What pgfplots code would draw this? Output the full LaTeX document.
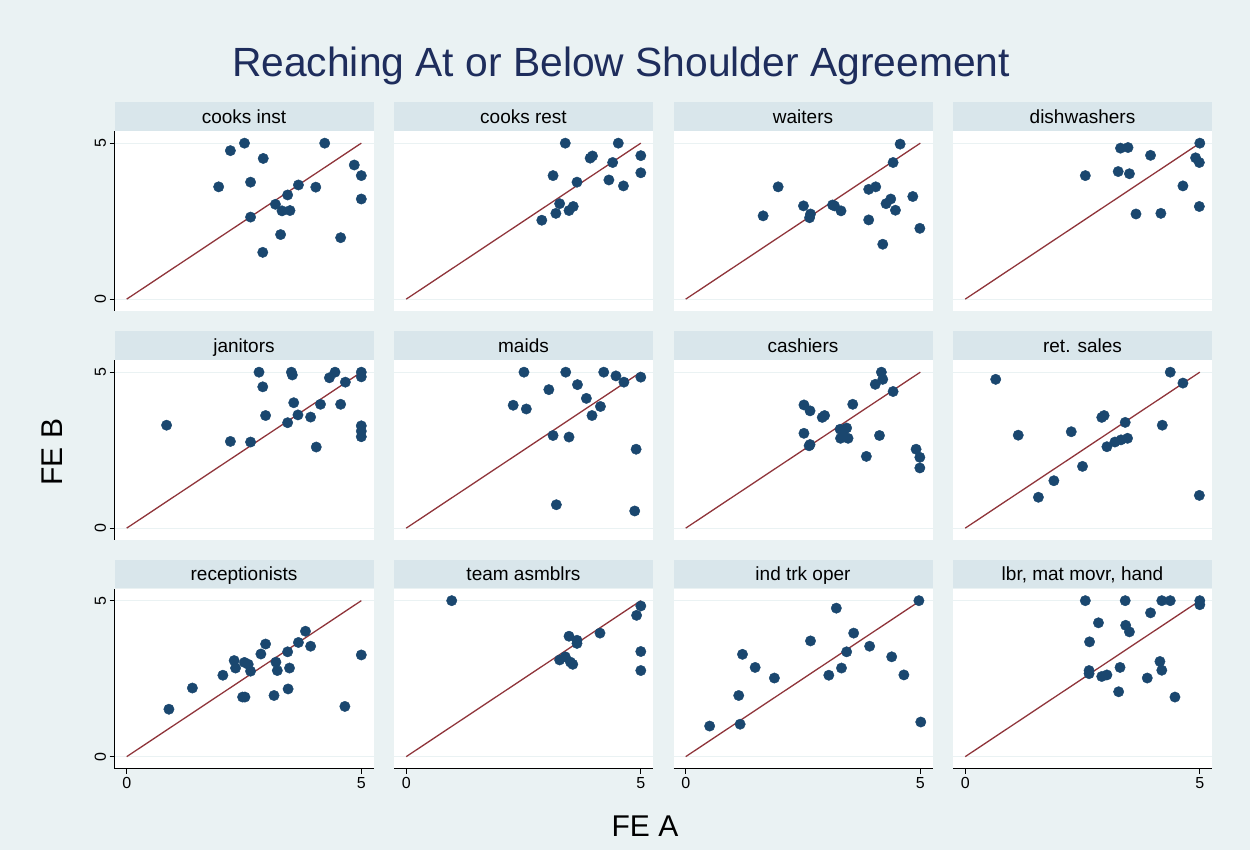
\documentclass[border=0pt]{standalone}
\usepackage{fontspec}
\setmainfont{Liberation Sans}
\usepackage{pgfplots}
\usepackage{pgfplotstable}
\pgfplotsset{compat=1.18}
\definecolor{bgc}{HTML}{EAF2F3}
\definecolor{hdr}{HTML}{D9E6EB}
\definecolor{dot}{HTML}{1A476F}
\definecolor{fitc}{HTML}{90353B}
\definecolor{ttl}{HTML}{1E2D5C}

\pgfplotstableread{
x y
2.21 4.76
2.51 5.00
2.91 4.51
1.96 3.60
2.64 3.75
4.22 5.00
4.85 4.30
5.00 3.96
5.00 3.21
3.66 3.66
4.03 3.59
3.43 3.34
3.17 3.04
3.31 2.83
3.48 2.84
2.64 2.63
3.28 2.07
2.90 1.50
4.56 1.97
}\tA
\pgfplotstableread{
x y
3.39 5.00
4.52 5.00
3.92 4.52
3.97 4.59
5.00 4.60
4.40 4.38
5.00 4.05
3.13 3.96
3.64 3.75
4.32 3.82
4.63 3.63
3.27 3.06
3.56 2.97
3.47 2.84
3.19 2.75
2.89 2.53
}\tB
\pgfplotstableread{
x y
4.57 4.97
4.42 4.38
1.97 3.60
3.90 3.52
4.05 3.60
4.84 3.29
4.37 3.21
4.27 3.06
4.47 2.85
2.51 2.99
2.66 2.73
2.64 2.61
3.13 3.02
3.17 2.99
3.31 2.83
1.65 2.67
3.90 2.54
4.99 2.27
4.20 1.76
}\tC
\pgfplotstableread{
x y
5.00 5.00
3.31 4.84
3.47 4.86
3.95 4.61
4.91 4.53
4.99 4.38
3.26 4.09
3.50 4.02
2.56 3.96
4.64 3.63
4.99 2.97
3.64 2.73
4.17 2.75
}\tD
\pgfplotstableread{
x y
2.82 5.00
3.51 5.00
3.53 4.91
4.32 4.82
4.44 5.00
5.00 5.00
5.00 4.85
4.66 4.68
2.90 4.53
3.56 4.02
4.13 3.97
4.56 3.97
2.96 3.61
3.65 3.63
3.92 3.56
3.43 3.38
0.85 3.30
5.00 3.28
5.00 3.11
5.00 2.93
2.21 2.78
2.64 2.76
4.04 2.60
}\tE
\pgfplotstableread{
x y
2.51 5.00
3.40 5.00
4.21 5.00
4.47 4.88
4.64 4.68
5.00 4.84
3.65 4.60
3.04 4.44
3.84 4.16
2.28 3.94
2.56 3.82
4.14 3.90
3.96 3.61
3.13 2.97
3.47 2.92
4.90 2.53
3.20 0.75
4.87 0.55
}\tF
\pgfplotstableread{
x y
4.17 5.00
4.20 4.77
4.04 4.61
4.42 4.38
2.52 3.95
2.65 3.76
3.56 3.97
2.91 3.55
2.96 3.61
3.29 3.17
3.43 3.21
3.36 3.10
3.30 2.88
3.46 2.88
2.52 3.04
2.65 2.68
2.63 2.64
4.13 2.97
3.85 2.30
4.91 2.53
4.99 2.27
4.99 1.93
}\tG
\pgfplotstableread{
x y
0.65 4.77
4.37 5.00
4.64 4.65
2.91 3.55
2.96 3.61
3.41 3.39
4.20 3.30
1.13 2.98
2.26 3.09
3.02 2.61
3.19 2.76
3.32 2.83
3.46 2.88
2.50 1.98
1.89 1.52
1.56 0.99
4.99 1.05
}\tH
\pgfplotstableread{
x y
0.90 1.52
1.40 2.20
2.05 2.61
2.29 3.08
2.32 2.84
2.51 3.02
2.59 2.96
2.64 2.74
2.86 3.29
2.96 3.61
3.18 3.03
3.21 2.76
3.43 3.36
3.47 2.84
3.66 3.66
3.81 4.02
3.92 3.54
2.47 1.91
2.52 1.91
3.14 1.96
3.44 2.17
4.65 1.61
5.00 3.26
}\tI
\pgfplotstableread{
x y
0.97 5.00
5.00 4.83
4.91 4.53
4.13 3.96
3.47 3.86
3.64 3.73
3.64 3.63
3.27 3.10
3.39 3.20
3.50 3.03
3.55 2.96
5.00 3.37
5.00 2.76
}\tJ
\pgfplotstableread{
x y
4.97 5.00
3.21 4.76
2.66 3.71
3.58 3.96
3.43 3.36
3.92 3.54
4.39 3.20
1.21 3.28
1.48 2.86
1.89 2.52
3.05 2.61
3.32 2.84
4.65 2.62
1.13 1.96
1.16 1.04
0.51 0.98
5.01 1.11
}\tK
\pgfplotstableread{
x y
2.56 5.00
3.41 5.00
4.19 5.00
4.37 5.00
5.00 5.00
5.00 4.87
3.95 4.61
2.84 4.29
3.42 4.21
3.50 4.00
2.65 3.68
2.64 2.76
2.64 2.66
2.91 2.57
3.02 2.62
3.30 2.86
4.15 3.05
4.19 2.77
3.88 2.52
3.27 2.08
4.47 1.91
}\tL

\pgfplotsset{
  panel/.style={
    scale only axis, width=259pt, height=180pt,
    anchor=north west,
    xmin=-0.26, xmax=5.26, ymin=-0.38, ymax=5.39,
    axis background/.style={fill=white},
    axis x line*=bottom, axis y line*=left,
    separate axis lines,
    tick align=outside, major tick length=5pt,
    ytick={0,5}, ymajorgrids,
    major grid style={color=bgc, line width=1.2pt},
    clip=false,
    title={\raisebox{-4pt}{#1}},
    every axis title/.style={at={(0.5,1)}, anchor=south, fill=hdr,
      minimum width=259pt, minimum height=28.5pt, inner sep=0pt,
      text height=0.72em, text depth=0.2em,
      font=\fontsize{19}{22}\selectfont},
    tick label style={font=\fontsize{16}{18}\selectfont},
    /pgf/number format/assume math mode=true,
    yticklabel style={rotate=90, anchor=south},
    tick style={black, line width=0.8pt},
  },
  leftcol/.style={y axis line style={-, draw=black, line width=0.8pt}},
  otcol/.style={y axis line style={draw=none}, yticklabels={}, ytick style={draw=none}},
  botrow/.style={x axis line style={-, draw=black, line width=0.8pt}, xtick={0,5}},
  otrow/.style={x axis line style={draw=none}, xtick=\empty},
  sc/.style={only marks, mark=*, mark size=5.2pt, color=dot, mark options={draw=dot, fill=dot}},
  fl/.style={fitc, line width=1.3pt, no marks},
}

\newcommand{\panel}[6]{%
\begin{axis}[panel={#3}, #4, #5, at={(#1pt,-#2pt)}]
\addplot[sc] table {#6};
\addplot[fl] coordinates {(0,0) (5,5)};
\end{axis}}

\begin{document}
\begin{tikzpicture}
\path[use as bounding box] (0,0) rectangle (1250pt,-850pt);
\fill[bgc] (0,0) rectangle (1250pt,-850pt);
\node[anchor=base, font=\fontsize{40.8}{48}\selectfont, text=ttl] at (621pt,-77pt) {Reaching At or Below Shoulder Agreement};
\node[rotate=90, font=\fontsize{30}{34}\selectfont] at (52pt,-452pt) {FE B};
\node[font=\fontsize{30}{34}\selectfont] at (645pt,-826pt) {FE A};

\panel{114.5}{131}{cooks inst}{leftcol}{otrow}{\tA}
\panel{394}{131}{cooks rest}{otcol}{otrow}{\tB}
\panel{673.5}{131}{waiters}{otcol}{otrow}{\tC}
\panel{953}{131}{dishwashers}{otcol}{otrow}{\tD}

\panel{114.5}{360}{janitors}{leftcol}{otrow}{\tE}
\panel{394}{360}{maids}{otcol}{otrow}{\tF}
\panel{673.5}{360}{cashiers}{otcol}{otrow}{\tG}
\panel{953}{360}{ret. sales}{otcol}{otrow}{\tH}

\panel{114.5}{588.5}{receptionists}{leftcol}{botrow}{\tI}
\panel{394}{588.5}{team asmblrs}{otcol}{botrow}{\tJ}
\panel{673.5}{588.5}{ind trk oper}{otcol}{botrow}{\tK}
\panel{953}{588.5}{lbr, mat movr, hand}{otcol}{botrow}{\tL}
\end{tikzpicture}
\end{document}
